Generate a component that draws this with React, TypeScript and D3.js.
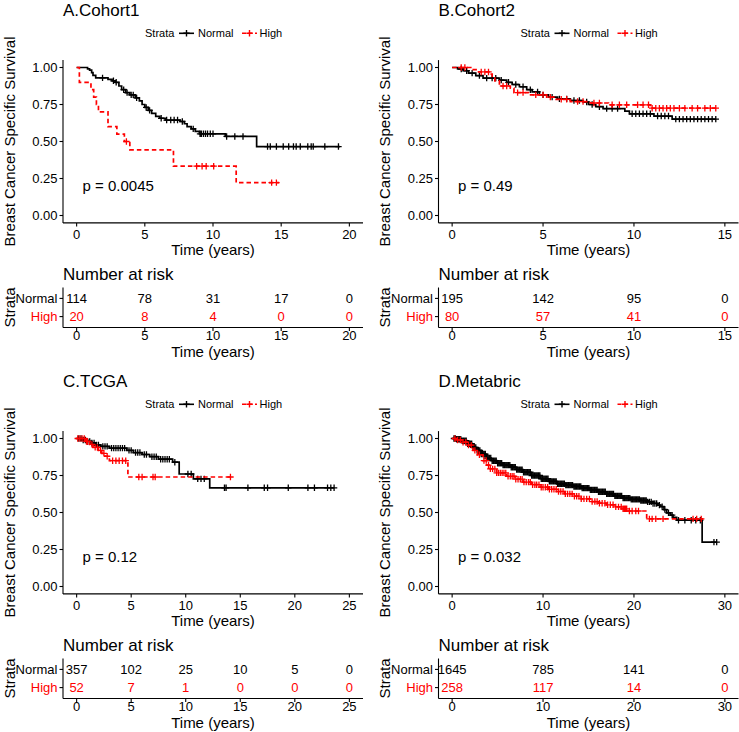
import React from "react";
import * as d3 from "d3";

type Step = [number, number];

const FONT = "'Liberation Sans', Arial, Helvetica, sans-serif";
const RED = "#FF0000";
const BLACK = "#000000";

const strataNames = ["Normal", "High"];
const yTicks = [0, 0.25, 0.5, 0.75, 1];
const yLabel = "Breast Cancer Specific Survival";
const xLabel = "Time (years)";

// ---------------- A. Cohort1 ----------------
const cohort1Title = "A.Cohort1";
const cohort1P = "p = 0.0045";
const cohort1XMax = 20;
const cohort1Ticks = [0, 5, 10, 15, 20];
const cohort1NormalSteps: Step[] = [
  [0, 1], [0.8, 0.991], [0.95, 0.982], [1.1, 0.965], [1.2, 0.947], [1.4, 0.93],
  [2.3, 0.92], [2.6, 0.91], [2.85, 0.9], [3.1, 0.875], [3.3, 0.85], [3.6, 0.83],
  [3.9, 0.815], [4.3, 0.795], [4.6, 0.775], [4.8, 0.75], [5.0, 0.73], [5.25, 0.71],
  [5.5, 0.69], [5.8, 0.67], [6.1, 0.657], [6.5, 0.645], [7.6, 0.635], [7.9, 0.62],
  [8.1, 0.6], [8.4, 0.585], [8.7, 0.568], [9.0, 0.552], [10.9, 0.534], [13.2, 0.466],
];
const cohort1NormalEnd = 19.3;
const cohort1NormalCensor = [
  1.9, 2.7, 2.9, 3.45, 3.7, 4.0, 4.15, 4.4, 5.1, 5.35, 6.2, 6.6, 6.9, 7.15, 7.4, 7.75,
  8.55, 9.05, 9.15, 9.3, 9.45, 9.6, 9.8, 10.0, 11.0, 11.6, 12.2, 14.0, 14.2, 14.65,
  15.15, 15.55, 15.9, 16.1, 16.4, 16.95, 17.2, 17.35, 18.2, 19.2,
];
const cohort1HighSteps: Step[] = [
  [0, 1], [0.2, 0.9], [1.05, 0.85], [1.25, 0.8], [1.45, 0.75], [1.6, 0.7], [2.3, 0.6],
  [2.95, 0.55], [3.5, 0.5], [3.9, 0.444], [7.1, 0.333], [11.7, 0.222],
];
const cohort1HighEnd = 14.85;
const cohort1HighCensor = [3.65, 8.8, 9.2, 9.5, 10.05, 14.3, 14.65];
const cohort1RiskNormal = [114, 78, 31, 17, 0];
const cohort1RiskHigh = [20, 8, 4, 0, 0];

// ---------------- B. Cohort2 ----------------
const cohort2Title = "B.Cohort2";
const cohort2P = "p = 0.49";
const cohort2XMax = 15;
const cohort2Ticks = [0, 5, 10, 15];
const cohort2NormalSteps: Step[] = [
  [0, 1], [0.3, 0.99], [0.6, 0.978], [0.9, 0.962], [1.3, 0.945], [1.7, 0.928],
  [2.6, 0.915], [3.0, 0.9], [3.3, 0.885], [3.7, 0.87], [4.1, 0.85], [4.4, 0.835],
  [4.8, 0.815], [5.3, 0.8], [5.8, 0.788], [6.5, 0.777], [7.2, 0.767], [7.5, 0.75],
  [7.9, 0.735], [8.3, 0.722], [9.5, 0.705], [9.75, 0.687], [11.1, 0.672], [12.1, 0.651],
];
const cohort2NormalEnd = 14.5;
const cohort2NormalCensor = [
  0.5, 0.8, 1.1, 1.5, 1.9, 2.2, 2.4, 2.7, 3.1, 3.5, 3.9, 4.3, 4.7, 5.0, 5.5, 5.9, 6.3,
  6.7, 7.0, 7.4, 7.7, 8.1, 8.5, 8.8, 9.1, 9.9, 10.1, 10.3, 10.5, 10.7, 10.9, 11.3, 11.5,
  11.7, 11.9, 12.3, 12.5, 12.7, 12.9, 13.1, 13.3, 13.5, 13.7, 13.9, 14.1, 14.3, 14.5,
];
const cohort2HighSteps: Step[] = [
  [0, 1], [1.1, 0.985], [1.4, 0.97], [2.1, 0.955], [2.2, 0.935], [2.35, 0.91],
  [2.6, 0.875], [3.2, 0.86], [3.4, 0.83], [4.2, 0.815], [5.2, 0.8], [5.6, 0.785],
  [6.5, 0.77], [7.6, 0.76], [8.6, 0.748], [10.9, 0.725],
];
const cohort2HighEnd = 14.5;
const cohort2HighCensor = [
  0.5, 0.7, 1.6, 1.8, 2.0, 2.8, 3.0, 3.6, 3.9, 4.6, 5.0, 5.4, 6.0, 6.3, 6.9, 7.2, 7.8,
  8.1, 8.8, 9.2, 9.6, 10.2, 10.5, 10.8, 11.0, 11.2, 11.4, 11.6, 11.8, 12.0, 12.2, 12.5,
  12.8, 13.2, 13.5, 13.9, 14.2, 14.5,
];
const cohort2RiskNormal = [195, 142, 95, 0];
const cohort2RiskHigh = [80, 57, 41, 0];

// ---------------- C. TCGA ----------------
const tcgaTitle = "C.TCGA";
const tcgaP = "p = 0.12";
const tcgaXMax = 25;
const tcgaTicks = [0, 5, 10, 15, 20, 25];
const tcgaNormalSteps: Step[] = [
  [0, 1], [0.5, 0.99], [0.9, 0.98], [1.3, 0.97], [1.7, 0.957], [2.2, 0.947], [3.0, 0.935],
  [4.6, 0.92], [5.2, 0.905], [6.0, 0.892], [6.7, 0.877], [7.5, 0.86], [8.8, 0.84],
  [9.4, 0.76], [10.7, 0.727], [12.2, 0.667],
];
const tcgaNormalEnd = 23.6;
const tcgaNormalCensor = [
  0.2, 0.4, 0.6, 0.8, 1.0, 1.2, 1.4, 1.6, 1.8, 2.0, 2.4, 2.6, 2.8, 3.2, 3.4, 3.6, 3.8,
  4.0, 4.2, 4.4, 4.8, 5.0, 5.4, 5.6, 5.8, 6.2, 6.4, 6.9, 7.1, 7.3, 7.7, 7.9, 8.1, 8.3,
  8.5, 9.0, 10.2, 10.5, 11.1, 11.4, 11.7, 13.55, 13.7, 15.7, 17.2, 17.5, 19.4, 21.2,
  21.8, 23.0, 23.3, 23.6,
];
const tcgaHighSteps: Step[] = [
  [0, 1], [0.8, 0.98], [1.2, 0.96], [1.5, 0.94], [2.0, 0.92], [2.3, 0.9], [2.6, 0.88],
  [3.0, 0.85], [4.7, 0.74],
];
const tcgaHighEnd = 14.2;
const tcgaHighCensor = [
  0.1, 0.3, 0.5, 0.7, 0.9, 1.0, 1.4, 1.7, 1.9, 2.2, 2.5, 2.8, 3.3, 3.6, 3.9, 4.2, 4.5,
  5.7, 6.0, 7.0, 7.2, 14.1,
];
const tcgaRiskNormal = [357, 102, 25, 10, 5, 0];
const tcgaRiskHigh = [52, 7, 1, 0, 0, 0];

// ---------------- D. Metabric ----------------
const metabricTitle = "D.Metabric";
const metabricP = "p = 0.032";
const metabricXMax = 30;
const metabricTicks = [0, 10, 20, 30];
const metabricNormalSteps: Step[] = [
  [0, 1], [0.5, 0.995], [1.0, 0.985], [1.6, 0.965], [2.2, 0.94], [2.7, 0.92], [3.2, 0.895],
  [3.8, 0.868], [4.3, 0.85], [4.9, 0.833], [5.6, 0.82], [6.4, 0.806], [7.1, 0.79],
  [7.8, 0.772], [8.7, 0.75], [9.7, 0.728], [10.6, 0.71], [11.5, 0.694], [12.4, 0.685],
  [13.3, 0.676], [14.2, 0.665], [15.2, 0.653], [16.1, 0.64], [17.0, 0.626], [17.9, 0.612],
  [18.8, 0.597], [19.7, 0.589], [20.7, 0.581], [21.4, 0.572], [22.1, 0.561], [22.6, 0.55],
  [22.9, 0.54], [23.3, 0.52], [23.6, 0.498], [24.0, 0.482], [24.3, 0.468], [24.7, 0.448],
  [27.5, 0.3],
];
const metabricNormalEnd = 29.1;
const metabricNormalCensor = [
  0.2, 0.35, 0.5, 0.65, 0.8, 0.95, 1.1, 1.25, 1.4, 1.55, 1.7, 1.85, 2.0, 2.15, 2.3, 2.45,
  2.6, 2.75, 2.9, 3.05, 3.2, 3.35, 3.5, 3.65, 3.8, 3.95, 4.1, 4.25, 4.4, 4.55, 4.7, 4.85,
  5.0, 5.15, 5.3, 5.45, 5.6, 5.75, 5.9, 6.05, 6.2, 6.35, 6.5, 6.65, 6.8, 6.95, 7.1, 7.25,
  7.4, 7.55, 7.7, 7.85, 8.0, 8.15, 8.3, 8.45, 8.6, 8.75, 8.9, 9.05, 9.2, 9.35, 9.5, 9.65,
  9.8, 9.95, 10.1, 10.25, 10.4, 10.55, 10.7, 10.85, 11.0, 11.15, 11.3, 11.45, 11.6, 11.75,
  11.9, 12.05, 12.2, 12.35, 12.5, 12.65, 12.8, 12.95, 13.1, 13.25, 13.4, 13.55, 13.7,
  13.85, 14.0, 14.15, 14.3, 14.45, 14.6, 14.75, 14.9, 15.05, 15.2, 15.35, 15.5, 15.65,
  15.8, 15.95, 16.1, 16.25, 16.4, 16.55, 16.7, 16.85, 17.0, 17.15, 17.3, 17.45, 17.6,
  17.75, 17.9, 18.05, 18.2, 18.35, 18.5, 18.65, 18.8, 18.95, 19.1, 19.25, 19.4, 19.55,
  19.7, 19.85, 20.0, 20.15, 20.3, 20.45, 20.6, 20.75, 20.9, 21.05, 21.2, 21.35, 21.5,
  21.7, 21.9, 22.1, 22.3, 22.5, 22.8, 23.1, 23.4, 23.8, 24.2, 24.9, 25.6, 26.3, 26.8,
  27.3, 28.8, 29.1,
];
const metabricHighSteps: Step[] = [
  [0, 1], [0.6, 0.99], [1.2, 0.975], [1.8, 0.955], [2.3, 0.92], [2.8, 0.89], [3.4, 0.851],
  [3.8, 0.82], [4.2, 0.795], [4.9, 0.768], [6.0, 0.745], [6.9, 0.725], [7.8, 0.705],
  [8.7, 0.688], [9.7, 0.671], [10.6, 0.657], [11.5, 0.642], [12.4, 0.626], [13.3, 0.61],
  [14.2, 0.592], [15.2, 0.574], [16.1, 0.563], [17.0, 0.552], [17.9, 0.538], [18.8, 0.525],
  [19.3, 0.51], [21.4, 0.457],
];
const metabricHighEnd = 27.6;
const metabricHighCensor = [
  0.3, 0.6, 0.9, 1.2, 1.5, 1.8, 2.1, 2.5, 3.0, 3.5, 3.75, 4.0, 4.2, 4.45, 4.7, 4.9, 5.1,
  5.3, 5.5, 5.7, 5.9, 6.15, 6.4, 6.6, 6.8, 7.0, 7.25, 7.5, 7.7, 7.9, 8.15, 8.4, 8.6,
  8.85, 9.1, 9.3, 9.55, 9.8, 10.0, 10.25, 10.5, 10.7, 10.95, 11.2, 11.45, 11.7, 11.95,
  12.2, 12.45, 12.7, 12.95, 13.2, 13.45, 13.7, 13.95, 14.2, 14.5, 14.8, 15.1, 15.4, 15.7,
  15.95, 16.2, 16.5, 16.8, 17.1, 17.4, 17.7, 18.0, 18.3, 18.6, 18.8, 18.95, 19.0, 19.1,
  19.2, 19.5, 19.8, 20.2, 20.5, 21.7, 22.0, 22.4, 23.2, 26.5, 26.9, 27.4,
];
const metabricRiskNormal = [1645, 785, 141, 0];
const metabricRiskHigh = [258, 117, 14, 0];

type Group = { steps: Step[]; end: number; censor: number[]; risk: number[]; color: string; dashed: boolean };
type PanelCfg = {
  title: string; p: string; xMax: number; ticks: number[];
  groups: Group[]; left: number; top: number; yLabelX: number;
};

const panels: PanelCfg[] = [
  {
    title: cohort1Title, p: cohort1P, xMax: cohort1XMax, ticks: cohort1Ticks, left: 63, top: 0, yLabelX: 15,
    groups: [
      { steps: cohort1NormalSteps, end: cohort1NormalEnd, censor: cohort1NormalCensor, risk: cohort1RiskNormal, color: BLACK, dashed: false },
      { steps: cohort1HighSteps, end: cohort1HighEnd, censor: cohort1HighCensor, risk: cohort1RiskHigh, color: RED, dashed: true },
    ],
  },
  {
    title: cohort2Title, p: cohort2P, xMax: cohort2XMax, ticks: cohort2Ticks, left: 438.5, top: 0, yLabelX: 390,
    groups: [
      { steps: cohort2NormalSteps, end: cohort2NormalEnd, censor: cohort2NormalCensor, risk: cohort2RiskNormal, color: BLACK, dashed: false },
      { steps: cohort2HighSteps, end: cohort2HighEnd, censor: cohort2HighCensor, risk: cohort2RiskHigh, color: RED, dashed: true },
    ],
  },
  {
    title: tcgaTitle, p: tcgaP, xMax: tcgaXMax, ticks: tcgaTicks, left: 63, top: 371, yLabelX: 15,
    groups: [
      { steps: tcgaNormalSteps, end: tcgaNormalEnd, censor: tcgaNormalCensor, risk: tcgaRiskNormal, color: BLACK, dashed: false },
      { steps: tcgaHighSteps, end: tcgaHighEnd, censor: tcgaHighCensor, risk: tcgaRiskHigh, color: RED, dashed: true },
    ],
  },
  {
    title: metabricTitle, p: metabricP, xMax: metabricXMax, ticks: metabricTicks, left: 438.5, top: 371, yLabelX: 390,
    groups: [
      { steps: metabricNormalSteps, end: metabricNormalEnd, censor: metabricNormalCensor, risk: metabricRiskNormal, color: BLACK, dashed: false },
      { steps: metabricHighSteps, end: metabricHighEnd, censor: metabricHighCensor, risk: metabricRiskHigh, color: RED, dashed: true },
    ],
  },
];

const survAt = (steps: Step[], t: number) => {
  let s = steps[0][1];
  for (const [tt, ss] of steps) {
    if (tt <= t) s = ss;
    else break;
  }
  return s;
};

const plus = (cx: number, cy: number, r = 3.2) => `M${cx - r},${cy}h${2 * r}M${cx},${cy - r}v${2 * r}`;

function Panel({ cfg }: { cfg: PanelCfg }) {
  const W = 300;
  const L = cfg.left;
  const T = cfg.top;
  const x = d3.scaleLinear().domain([-0.05 * cfg.xMax, 1.05 * cfg.xMax]).range([L, L + W]);
  const y = d3.scaleLinear().domain([-0.05, 1.05]).range([T + 222.9, T + 60.1]);
  const ry = d3.scaleLinear().domain([0.4, 2.6]).range([T + 327.5, T + 287.5]);
  const line = d3.line<Step>().x((d) => x(d[0])).y((d) => y(d[1])).curve(d3.curveStepAfter);
  const cx = L + W / 2;
  const x0 = cx - 68;
  const legY = T + 33.3;
  const axisW = 1.1;

  return (
    <g fontFamily={FONT}>
      <text x={L} y={T + 15.5} fontSize={17} fill="#000">{cfg.title}</text>
      <g fontSize={11} fill="#000">
        <text x={x0} y={legY} dy="0.35em">Strata</text>
        <line x1={x0 + 34} x2={x0 + 49} y1={legY} y2={legY} stroke={BLACK} strokeWidth={1.6} />
        <path d={plus(x0 + 41.5, legY)} stroke={BLACK} strokeWidth={1.4} />
        <text x={x0 + 53} y={legY} dy="0.35em">{strataNames[0]}</text>
        <line x1={x0 + 97} x2={x0 + 112} y1={legY} y2={legY} stroke={RED} strokeWidth={1.6} strokeDasharray="4,2.5" />
        <path d={plus(x0 + 104.5, legY)} stroke={RED} strokeWidth={1.4} />
        <text x={x0 + 114.5} y={legY} dy="0.35em">{strataNames[1]}</text>
      </g>
      <text transform={`translate(${cfg.yLabelX},${(y(1.05) + y(-0.05)) / 2}) rotate(-90)`} textAnchor="middle" fontSize={15} fill="#000">{yLabel}</text>
      {cfg.groups.map((g, i) => {
        const last = g.steps[g.steps.length - 1][1];
        const pts: Step[] = [...g.steps, [g.end, last]];
        return (
          <g key={i}>
            <path d={line(pts) || ""} fill="none" stroke={g.color} strokeWidth={1.7} strokeDasharray={g.dashed ? "4.5,3" : undefined} />
            <path d={g.censor.map((t) => plus(x(t), y(survAt(g.steps, t)))).join("")} stroke={g.color} strokeWidth={1.3} fill="none" />
          </g>
        );
      })}
      <line x1={L} x2={L} y1={y(1.05)} y2={y(-0.05)} stroke="#000" strokeWidth={axisW} />
      <line x1={L} x2={L + W} y1={y(-0.05)} y2={y(-0.05)} stroke="#000" strokeWidth={axisW} />
      {yTicks.map((v) => (
        <g key={v}>
          <line x1={L - 3.5} x2={L} y1={y(v)} y2={y(v)} stroke="#000" strokeWidth={axisW} />
          <text x={L - 5.5} y={y(v)} dy="0.35em" textAnchor="end" fontSize={13} fill="#000">{v.toFixed(2)}</text>
        </g>
      ))}
      {cfg.ticks.map((v) => (
        <g key={v}>
          <line x1={x(v)} x2={x(v)} y1={y(-0.05)} y2={y(-0.05) + 3.5} stroke="#000" strokeWidth={axisW} />
          <text x={x(v)} y={T + 239} textAnchor="middle" fontSize={13} fill="#000">{v}</text>
        </g>
      ))}
      <text x={cx} y={T + 255} textAnchor="middle" fontSize={15} fill="#000">{xLabel}</text>
      <text x={L + 19.5} y={y(0.2) + 5.5} fontSize={15} fill="#000">{cfg.p}</text>
      <text x={L} y={T + 280} fontSize={17} fill="#000">Number at risk</text>
      <text transform={`translate(${cfg.yLabelX},${T + 307.5}) rotate(-90)`} textAnchor="middle" fontSize={15} fill="#000">Strata</text>
      <line x1={L} x2={L} y1={ry(2.6)} y2={ry(0.4)} stroke="#000" strokeWidth={axisW} />
      <line x1={L} x2={L + W} y1={ry(0.4)} y2={ry(0.4)} stroke="#000" strokeWidth={axisW} />
      {cfg.groups.map((g, i) => {
        const row = 2 - i;
        return (
          <g key={i}>
            <line x1={L - 3.5} x2={L} y1={ry(row)} y2={ry(row)} stroke="#000" strokeWidth={axisW} />
            <text x={L - 5.5} y={ry(row)} dy="0.35em" textAnchor="end" fontSize={13} fill={g.color}>{strataNames[i]}</text>
            {g.risk.map((n, k) => (
              <text key={k} x={x(cfg.ticks[k])} y={ry(row)} dy="0.35em" textAnchor="middle" fontSize={13} fill={g.color}>{n}</text>
            ))}
          </g>
        );
      })}
      {cfg.ticks.map((v) => (
        <g key={v}>
          <line x1={x(v)} x2={x(v)} y1={ry(0.4)} y2={ry(0.4) + 3.5} stroke="#000" strokeWidth={axisW} />
          <text x={x(v)} y={T + 340} textAnchor="middle" fontSize={13} fill="#000">{v}</text>
        </g>
      ))}
      <text x={cx} y={T + 356.5} textAnchor="middle" fontSize={15} fill="#000">{xLabel}</text>
    </g>
  );
}

export default function App() {
  return (
    <svg width={739} height={732} viewBox="0 0 739 732" style={{ position: "absolute", left: 0, top: 0, background: "#fff" }}>
      <rect x={0} y={0} width={739} height={732} fill="#fff" />
      {panels.map((p, i) => (
        <Panel key={i} cfg={p} />
      ))}
    </svg>
  );
}
